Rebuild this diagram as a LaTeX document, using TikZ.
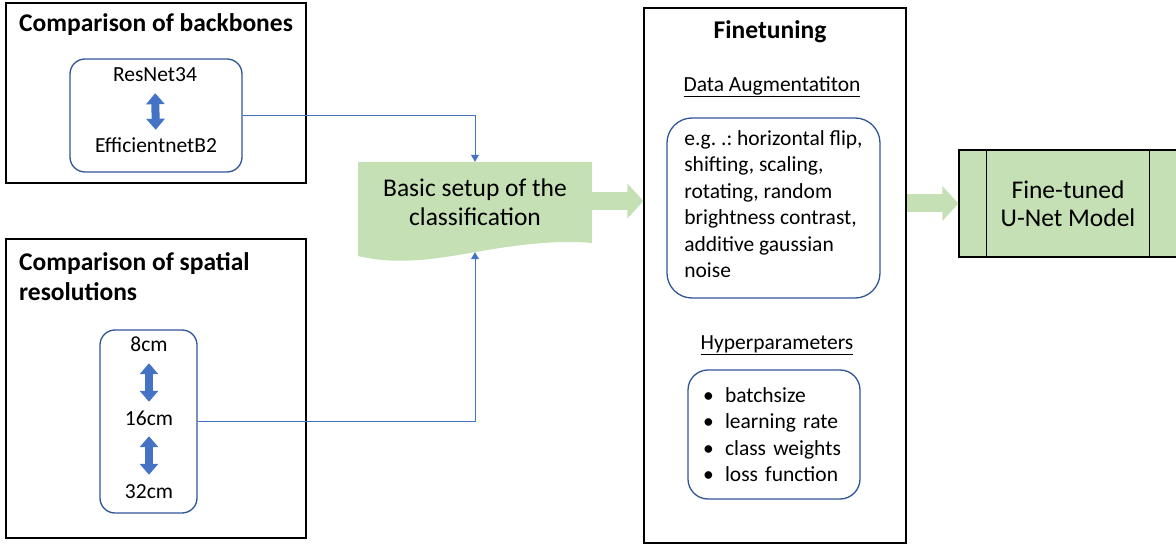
\documentclass[tikz,border=0pt]{standalone}
\usepackage{fontspec}
\setmainfont{Carlito}
\usetikzlibrary{arrows.meta,calc}
\definecolor{boxblue}{HTML}{2F5597}
\definecolor{linkblue}{HTML}{4472C4}
\definecolor{palegreen}{HTML}{C5E0B4}
\frenchspacing

\begin{document}
\begin{tikzpicture}[x=1pt,y=-1pt,
  groupbox/.style={draw=black,line width=1.2pt,inner sep=0pt},
  grouptitle/.style={font=\fontsize{25.5}{30}\selectfont\bfseries,anchor=west,align=left,inner sep=0pt},
  optbox/.style={draw=boxblue,line width=1.3pt,rounded corners=15pt,inner sep=0pt},
  bodytext/.style={font=\fontsize{21.5}{26.5}\selectfont,inner sep=0pt},
  itemtext/.style={bodytext,text height=15pt,text depth=5pt},
  bigtext/.style={font=\fontsize{25.5}{29}\selectfont,align=center,inner sep=0pt},
  link/.style={draw=linkblue,line width=1pt,-{Triangle[width=8pt,length=7pt]}},
  swaparrow/.style={draw=linkblue,line width=8pt,shorten <=6pt,shorten >=8pt,
    {Triangle[width=18pt,length=11pt]}-{Triangle[width=18pt,length=11pt]}},
  flowarrow/.style={draw=palegreen,line width=18pt,-{Triangle[width=34pt,length=16pt]}}]

\useasboundingbox (0,0) rectangle (1176,545);

% backbones
\node[groupbox,minimum width=300pt,minimum height=180pt] (bbgroup) at (156,93) {};
\node[grouptitle] (bbtitle) at (19,25) {Comparison of backbones};
\node[optbox,minimum width=172pt,minimum height=113pt] (bbbox) at (156,115.5) {};
\node[itemtext] (resnet) at (155,77) {ResNet34};
\node[itemtext] (effnet) at (156,148) {EfficientnetB2};
\draw[swaparrow] (resnet) -- (effnet);

% spatial resolutions
\node[groupbox,minimum width=300pt,minimum height=299pt] (resgroup) at (156,388.5) {};
\node[grouptitle] (restitle) at (19,277) {Comparison of spatial\\resolutions};
\node[optbox,minimum width=97pt,minimum height=183pt] (resbox) at (148.5,421.5) {};
\node[itemtext] (res8) at (149,347) {8cm};
\node[itemtext] (res16) at (149,420) {16cm};
\node[itemtext] (res32) at (149,493) {32cm};
\draw[swaparrow] (res8) -- (res16);
\draw[swaparrow] (res16) -- (res32);

% basic setup (document shape)
\fill[palegreen] (358,162) -- (592,162) -- (592,243)
  .. controls (560,240) and (520,244) .. (476,252)
  .. controls (440,258) and (400,266) .. (358,256) -- cycle;
\node[bigtext,minimum width=234pt,minimum height=90pt] (setup) at (475,207)
  {Basic setup of the\\classification\rule[-9pt]{0pt}{9pt}};
\draw[link] (bbbox.east) -| (setup.north);
\draw[link] (resbox.east) -| (setup.south);

% finetuning
\node[groupbox,minimum width=262pt,minimum height=535pt] (fine) at (775,275.5) {};
\node[bigtext,font=\fontsize{25.5}{29}\selectfont\bfseries] (finetitle) at (770,32) {Finetuning};
\node[bodytext] (augtitle) at (772,87) {\underline{Data Augmentatiton}};
\node[optbox,rounded corners=25pt,minimum width=213pt,minimum height=180pt,bodytext,align=left] (augbox) at (773.5,208)
  {e.g. .: horizontal flip,\\shifting, scaling,\\rotating, random\\brightness contrast,\\additive gaussian\\noise\rule[-8pt]{0pt}{8pt}};
\node[bodytext] (hyptitle) at (777,345) {\underline{Hyperparameters}};
\node[optbox,rounded corners=20pt,minimum width=172pt,minimum height=129pt,bodytext,inner xsep=15pt,text width=142pt,align=left] (hypbox) at (774,434.5)
  {\makebox[22pt][l]{•}batchsize\\\makebox[22pt][l]{•}learning rate\\
   \makebox[22pt][l]{•}class weights\\\makebox[22pt][l]{•}loss function};

% fine-tuned model
\node[draw=black,line width=1.2pt,fill=palegreen,minimum width=218pt,minimum height=107pt,bigtext,font=\fontsize{25.5}{28}\selectfont] (model) at (1068,203.5)
  {Fine-tuned\\U-Net Model};
\draw[line width=1.2pt] ([xshift=28pt]model.north west) -- ([xshift=28pt]model.south west);
\draw[line width=1.2pt] ([xshift=-28pt]model.north east) -- ([xshift=-28pt]model.south east);

% flow arrows
\path ([yshift=6pt]setup.east) coordinate (flowstart);
\draw[flowarrow] (flowstart) -- (flowstart -| fine.west);
\draw[flowarrow] (fine.east |- model.west) -- (model.west);

\end{tikzpicture}
\end{document}
